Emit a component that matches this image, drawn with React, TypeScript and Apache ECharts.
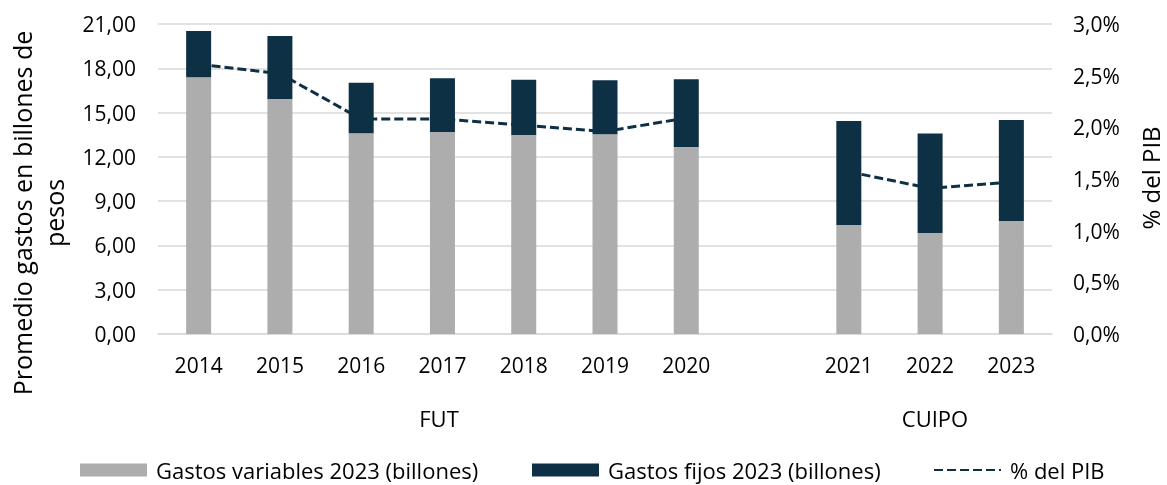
import React, { useEffect, useRef } from "react";
import * as echarts from "echarts";

const categories = ["2014", "2015", "2016", "2017", "2018", "2019", "2020", "", "2021", "2022", "2023"];
const gastosVariables = [17.39, 15.92, 13.6, 13.68, 13.48, 13.53, 12.67, null, 7.38, 6.84, 7.65];
const gastosFijosTotal = [20.53, 20.19, 17.02, 17.32, 17.23, 17.19, 17.25, null, 14.43, 13.59, 14.5];
const pibPct = [2.61, 2.52, 2.08, 2.08, 2.02, 1.96, 2.09, null, 1.57, 1.41, 1.47];
const leftTicks = { min: 0, max: 21, interval: 3 };
const rightTicks = { min: 0, max: 3, interval: 0.5 };
const groupLabels = ["FUT", "CUIPO"];
const seriesNames = ["Gastos variables 2023 (billones)", "Gastos fijos 2023 (billones)", "% del PIB"];

const FONT = "Open Sans";
const GRAY = "#ADADAD";
const NAVY = "#0E3044";

export default function App() {
  const ref = useRef<HTMLDivElement>(null);
  useEffect(() => {
    if (!ref.current) return;
    const chart = echarts.init(ref.current, undefined, { renderer: "svg" });
    const gastosFijos = gastosFijosTotal.map((t, i) =>
      t == null || gastosVariables[i] == null ? null : +(t - (gastosVariables[i] as number)).toFixed(2)
    );
    const fmt = (v: number, d: number) => v.toFixed(d).replace(".", ",");
    const legendBase = {
      top: 459,
      padding: 0,
      itemWidth: 67,
      itemHeight: 13,
      textStyle: { fontSize: 22, lineHeight: 22, color: "#000", fontFamily: FONT, padding: [0, 0, 0, 4] },
    };
    const legendLefts = [80, 532, 933];
    chart.setOption({
      animation: false,
      textStyle: { fontFamily: FONT },
      grid: { left: 158, right: 115, top: 24, height: 310, containLabel: false },
      legend: [
        { ...legendBase, left: legendLefts[0], data: [{ name: seriesNames[0], icon: "rect" }] },
        { ...legendBase, left: legendLefts[1], data: [{ name: seriesNames[1], icon: "rect" }] },
        { ...legendBase, left: legendLefts[2], data: [{ name: seriesNames[2], itemStyle: { opacity: 0 } }] },
      ],
      xAxis: {
        type: "category",
        data: categories,
        axisTick: { show: false },
        axisLine: { lineStyle: { color: "#D9D9D9", width: 1.5 } },
        axisLabel: { fontSize: 21, color: "#000", margin: 20, fontFamily: FONT },
      },
      yAxis: [
        {
          type: "value",
          ...leftTicks,
          axisLine: { show: false },
          axisTick: { show: false },
          splitLine: { lineStyle: { color: "#D9D9D9", width: 1.5 } },
          axisLabel: { fontSize: 21, color: "#000", margin: 22, fontFamily: FONT, formatter: (v: number) => fmt(v, 2) },
        },
        {
          type: "value",
          ...rightTicks,
          axisLine: { show: false },
          axisTick: { show: false },
          splitLine: { show: false },
          axisLabel: { fontSize: 21, color: "#000", margin: 21, fontFamily: FONT, formatter: (v: number) => fmt(v, 1) + "%" },
        },
      ],
      series: [
        {
          name: seriesNames[2],
          type: "line",
          yAxisIndex: 1,
          data: pibPct,
          z: 1,
          symbol: "none",
          connectNulls: false,
          lineStyle: { color: NAVY, width: 3, type: [9, 4] },
          itemStyle: { color: NAVY },
        },
        {
          name: seriesNames[0],
          type: "bar",
          stack: "g",
          barWidth: 25,
          z: 3,
          data: gastosVariables,
          itemStyle: { color: GRAY },
        },
        {
          name: seriesNames[1],
          type: "bar",
          stack: "g",
          barWidth: 25,
          z: 3,
          data: gastosFijos,
          itemStyle: { color: NAVY },
        },
      ],
      graphic: [
        {
          type: "text",
          x: 22,
          y: 213,
          rotation: Math.PI / 2,
          style: { text: "Promedio gastos en billones de", fontSize: 25, fontFamily: FONT, fill: "#000", align: "center", verticalAlign: "middle" },
        },
        {
          type: "text",
          x: 54,
          y: 213,
          rotation: Math.PI / 2,
          style: { text: "pesos", fontSize: 25, fontFamily: FONT, fill: "#000", align: "center", verticalAlign: "middle" },
        },
        {
          type: "text",
          x: 1150,
          y: 178,
          rotation: Math.PI / 2,
          style: { text: "% del PIB", fontSize: 24, fontFamily: FONT, fill: "#000", align: "center", verticalAlign: "middle" },
        },
        {
          type: "text",
          x: 439,
          y: 418,
          style: { text: groupLabels[0], fontSize: 22, fontFamily: FONT, fill: "#000", align: "center", verticalAlign: "middle" },
        },
        {
          type: "text",
          x: 935,
          y: 418,
          style: { text: groupLabels[1], fontSize: 22, fontFamily: FONT, fill: "#000", align: "center", verticalAlign: "middle" },
        },
      ],
    });
    return () => chart.dispose();
  }, []);
  return <div ref={ref} style={{ position: "fixed", left: 0, top: 0, width: 1167, height: 485 }} />;
}
